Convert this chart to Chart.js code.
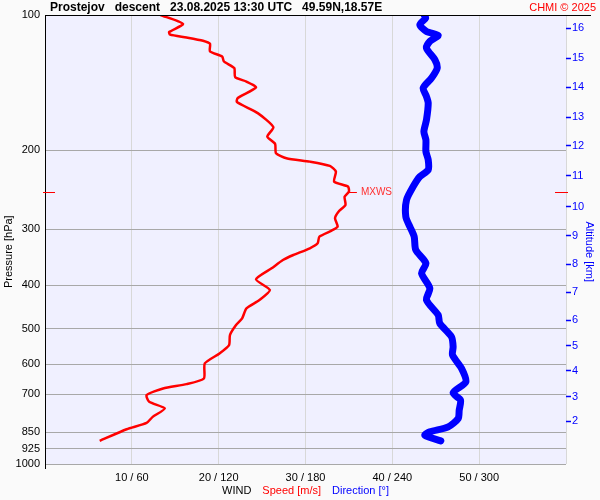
<!DOCTYPE html>
<html>
<head>
<meta charset="utf-8">
<script src="https://cdn.jsdelivr.net/npm/chart.js@4/dist/chart.umd.min.js"></script>
<style>
  html, body { margin: 0; padding: 0; background: #fafafa; }
  canvas { display: block; }
</style>
</head>
<body>
<canvas id="viz" width="600" height="500"></canvas>
<script>
// wind speed profile, m/s against hPa
var speedPressure = [100, 104.7, 109.1, 110.6, 112.2, 114.1, 115.9, 120.5, 123.7, 126.9,
  131.3, 137.5, 140.7, 145.0, 153.1, 156.3, 165.4, 177.7, 186.5, 193.6,
  203.1, 208.4, 212.1, 216.8, 223.2, 235.0, 241.1, 247.4, 253.9, 264.9,
  274.2, 283.6, 296.1, 302.2, 311.6, 322.4, 330.8, 342.4, 351.3, 366.6,
  387.9, 409.8, 431.4, 450.2, 473.9, 490.4, 516.3, 543.5, 567.2, 597.1,
  644.9, 663.9, 678.7, 702.4, 727.0, 752.2, 785.3, 809.9, 836.7, 888.1];
var speedValues = [13.3, 15.9, 14.3, 14.4, 16.3, 18.2, 19.0, 19.0, 20.4, 20.6,
  21.8, 21.9, 23.2, 24.3, 22.2, 22.1, 24.5, 26.3, 25.6, 26.5,
  26.6, 27.8, 30.5, 32.8, 33.5, 33.3, 34.9, 35.0, 34.5, 34.6,
  33.8, 33.4, 33.7, 33.0, 31.6, 31.4, 30.5, 28.6, 27.4, 26.1,
  24.3, 25.9, 24.7, 23.2, 22.7, 22.0, 21.3, 21.2, 20.1, 18.4,
  18.3, 16.3, 13.6, 11.7, 12.0, 13.8, 12.4, 11.7, 9.4, 6.3];

// wind direction profile, degrees against hPa
var dirPressure = [100, 101.6, 105.1, 108.8, 111.0, 114.5, 118.5, 125.8, 131.3, 138.2,
  145.5, 151.9, 157.1, 171.2, 181.8, 189.7, 201.4, 210.2, 221.3, 229.1,
  241.1, 258.2, 281.2, 296.1, 311.6, 333.6, 357.3, 376.1, 406.1, 431.4,
  465.9, 486.2, 521.0, 548.3, 572.1, 612.5, 656.0, 694.4, 720.6, 758.9,
  791.9, 826.8, 848.2, 862.9, 888.1];
var dirValues = [262.0, 263.0, 259.0, 263.6, 271.7, 265.9, 263.6, 269.4, 271.0, 267.1,
  261.3, 263.6, 264.8, 263.6, 261.8, 263.2, 263.2, 264.8, 264.8, 259.0,
  254.4, 249.8, 249.3, 252.1, 255.1, 256.2, 263.2, 260.2, 265.9, 263.6,
  271.7, 272.8, 280.9, 282.0, 281.6, 287.8, 290.8, 282.0, 287.1, 286.2,
  285.5, 278.6, 265.9, 262.5, 273.5];

var pressureTicks = [100, 200, 300, 400, 500, 600, 700, 850, 925, 1000];
var speedTicks = [0, 10, 20, 30, 40, 50, 60];
var speedTickLabels = ['', '10 / 60', '20 / 120', '30 / 180', '40 / 240', '50 / 300', ''];
var altitudeKm = [16, 15, 14, 13, 12, 11, 10, 9, 8, 7, 6, 5, 4, 3, 2];
var altitudePressure = [106.9, 124.7, 144.7, 168.8, 195.6, 228.2, 267.2, 310.5,
  359.2, 414.7, 477.9, 545.4, 620.1, 708.6, 802.8];

var FONT = '"Liberation Sans", Arial, sans-serif';

function pairs(xs, ps) {
  return xs.map(function (v, i) { return { x: v, y: ps[i] }; });
}

var decor = {
  id: 'decor',
  beforeDraw: function (chart) {
    var c = chart.ctx, a = chart.chartArea;
    c.save();
    c.fillStyle = '#fafafa';
    c.fillRect(0, 0, chart.width, chart.height);
    c.fillStyle = '#f0f0ff';
    c.fillRect(a.left, a.top, a.right - a.left, a.bottom - a.top);
    c.restore();
  },
  afterDraw: function (chart) {
    var c = chart.ctx, a = chart.chartArea;
    c.save();
    // header
    c.textBaseline = 'middle';
    c.fillStyle = '#000';
    c.font = 'bold 12px ' + FONT;
    c.textAlign = 'left';
    c.fillText('Prostejov   descent   23.08.2025 13:30 UTC   49.59N,18.57E', a.left + 5, 8);
    c.font = '11px ' + FONT;
    c.fillStyle = '#ff0000';
    c.textAlign = 'right';
    c.fillText('CHMI \u00a9 2025', chart.width - 4, 8);
    c.strokeStyle = '#000';
    c.lineWidth = 1;
    c.beginPath();
    c.moveTo(a.left, a.top + 0.5);
    c.lineTo(chart.width - 9, a.top + 0.5);
    c.moveTo(a.left + 0.5, a.top);
    c.lineTo(a.left + 0.5, a.bottom + 5);
    c.stroke();

    // axis caption under the x ticks
    var parts = [['WIND', '#000'], ['Speed [m/s]', '#ff0000'], ['Direction [\u00b0]', '#0000ff']];
    c.font = '11px ' + FONT;
    c.textAlign = 'left';
    var gap = 11, total = 0;
    parts.forEach(function (p) { total += c.measureText(p[0]).width; });
    total += gap * (parts.length - 1);
    var px = (a.left + a.right) / 2 - total / 2;
    parts.forEach(function (p) {
      c.fillStyle = p[1];
      c.fillText(p[0], px, 491);
      px += c.measureText(p[0]).width + gap;
    });

    // maximum wind marker
    var im = 0;
    speedValues.forEach(function (v, i) { if (v > speedValues[im]) im = i; });
    var my = Math.round(chart.scales.y.getPixelForValue(speedPressure[im])) + 0.5;
    var mx = chart.scales.x.getPixelForValue(speedValues[im]);
    c.strokeStyle = '#ff0000';
    c.beginPath();
    c.moveTo(a.left - 2, my); c.lineTo(a.left + 10, my);
    c.moveTo(a.right - 11, my); c.lineTo(a.right + 2, my);
    c.moveTo(mx, my); c.lineTo(mx + 8, my);
    c.stroke();
    c.fillStyle = '#ff3030';
    c.font = '10px ' + FONT;
    c.fillText('MXWS', mx + 12, my);
    c.restore();
  }
};

var context = document.getElementById('viz').getContext('2d');

var chart = new Chart(context, {
  type: 'scatter',
  data: {
    datasets: [
      {
        label: 'Direction [\u00b0]',
        data: pairs(dirValues, dirPressure),
        xAxisID: 'xDir',
        yAxisID: 'y',
        showLine: true,
        borderColor: '#0000ff',
        borderWidth: 7,
        borderCapStyle: 'round',
        borderJoinStyle: 'round',
        pointRadius: 0,
        tension: 0.25,
      },
      {
        label: 'Speed [m/s]',
        data: pairs(speedValues, speedPressure),
        xAxisID: 'x',
        yAxisID: 'y',
        showLine: true,
        borderColor: '#ff0000',
        borderWidth: 2.5,
        pointRadius: 0,
        tension: 0.2,
      },
    ],
  },
  options: {
    responsive: false,
    animation: false,
    devicePixelRatio: 1,
    layout: { padding: { top: 15, left: 0, right: 0, bottom: 0 } },
    plugins: { legend: { display: false }, tooltip: { enabled: false } },
    scales: {
      x: {
        type: 'linear',
        position: 'bottom',
        min: 0,
        max: 60,
        afterFit: function (s) { s.height = 36; },
        afterBuildTicks: function (s) {
          s.ticks = speedTicks.map(function (v) { return { value: v }; });
        },
        grid: { color: '#d8d8d8', drawTicks: false },
        border: { display: false },
        ticks: {
          color: '#000',
          font: { family: FONT, size: 11 },
          padding: 7,
          maxRotation: 0,
          autoSkip: false,
          callback: function (v, i) { return speedTickLabels[i]; },
        },
      },
      xDir: { type: 'linear', min: 0, max: 360, display: false },
      y: {
        type: 'logarithmic',
        position: 'left',
        reverse: true,
        min: 100,
        max: 1000,
        afterFit: function (s) { s.width = 45; },
        afterBuildTicks: function (s) {
          s.ticks = pressureTicks.map(function (v) { return { value: v }; });
        },
        grid: { color: '#a8a8a8', drawTicks: false },
        border: { color: '#000' },
        ticks: {
          color: '#000',
          font: { family: FONT, size: 11 },
          padding: 5,
          autoSkip: false,
          callback: function (v, i) { return String(pressureTicks[i]); },
        },
        title: {
          display: true,
          text: 'Pressure [hPa]        ',
          color: '#000',
          font: { family: FONT, size: 11 },
          padding: { top: 2, bottom: 0 },
        },
      },
      yAlt: {
        type: 'logarithmic',
        position: 'right',
        reverse: true,
        min: 100,
        max: 1000,
        afterFit: function (s) { s.width = 34; },
        afterBuildTicks: function (s) {
          s.ticks = altitudePressure.map(function (v) { return { value: v }; });
        },
        grid: { drawOnChartArea: false, drawTicks: true, tickLength: 5, tickColor: '#0000ff', tickWidth: 1.5 },
        border: { display: false },
        ticks: {
          color: '#0000ff',
          font: { family: FONT, size: 11 },
          padding: 1,
          autoSkip: false,
          callback: function (v, i) { return String(altitudeKm[i]); },
        },
        title: {
          display: true,
          text: '        Altitude [km]',
          color: '#0000ff',
          font: { family: FONT, size: 11 },
          padding: { top: 4, bottom: 0 },
        },
      },
    },
  },
  plugins: [decor],
});
</script>
</body>
</html>
